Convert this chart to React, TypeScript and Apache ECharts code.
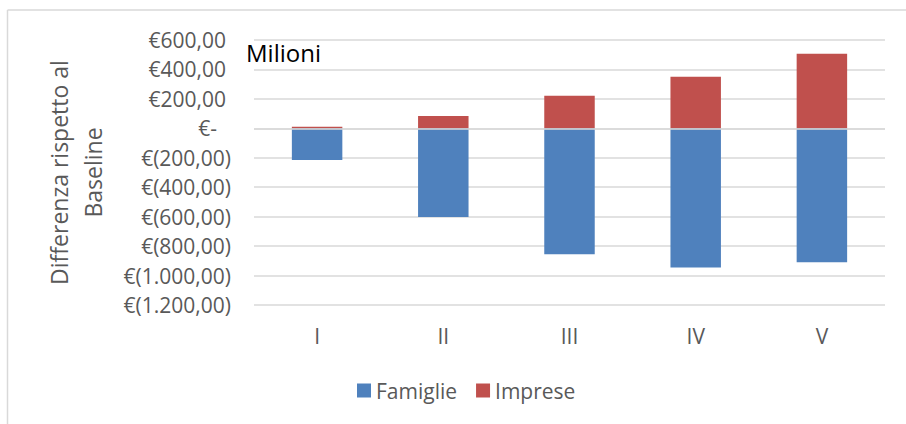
import React, { useEffect, useRef } from "react";
import * as echarts from "echarts";

const categories = ["I", "II", "III", "IV", "V"];
const famiglie = [-215, -603, -855, -945, -910];
const imprese = [10, 83, 222, 351, 507];
const yMin = -1200;
const yMax = 600;
const yStep = 200;
const axisTitleLines = ["Differenza rispetto al", "Baseline"];
const unitLabel = "Milioni";

const FONT = "'Open Sans', 'Noto Sans', sans-serif";
const GRAY = "#595959";

function fmt(v: number): string {
  const s = v.toFixed(2).split(".");
  const intPart = s[0].replace(/\B(?=(\d{3})+(?!\d))/g, ".");
  return intPart + "," + s[1];
}

export default function App() {
  const ref = useRef<HTMLDivElement>(null);
  useEffect(() => {
    if (!ref.current) return;
    const chart = echarts.init(ref.current, null, { renderer: "svg" });
    const richBase = { fontFamily: FONT, fontSize: 21, color: GRAY };
    chart.setOption({
      animation: false,
      backgroundColor: "#ffffff",
      grid: { left: 254, right: 21, top: 40, bottom: 119 },
      legend: {
        data: ["Famiglie", "Imprese"],
        left: 352,
        top: 375,
        itemWidth: 14,
        itemHeight: 14,
        itemGap: 19,
        icon: "rect",
        textStyle: { fontFamily: FONT, fontSize: 21, color: GRAY },
      },
      xAxis: {
        type: "category",
        data: categories,
        axisLine: { show: false },
        axisTick: { show: false },
        axisLabel: { fontFamily: FONT, fontSize: 21, color: GRAY, margin: 20 },
      },
      yAxis: {
        type: "value",
        min: yMin,
        max: yMax,
        interval: yStep,
        axisLine: { show: false },
        axisTick: { show: false },
        splitLine: { lineStyle: { color: "#d9d9d9", width: 1.5 } },
        axisLabel: {
          margin: 23,
          fontFamily: FONT,
          fontSize: 21,
          color: GRAY,
          formatter: (v: number) => {
            if (v > 0) return "{p|€" + fmt(v) + "}";
            if (v === 0) return "{z|€-}";
            return "€(" + fmt(-v) + ")";
          },
          rich: {
            p: { ...richBase, padding: [0, 5, 0, 0] },
            z: { ...richBase, padding: [0, 14, 0, 0] },
          },
        },
      },
      series: [
        {
          name: "Famiglie",
          type: "bar",
          stack: "tot",
          barWidth: "40%",
          data: famiglie,
          itemStyle: { color: "#4f81bd" },
        },
        {
          name: "Imprese",
          type: "bar",
          stack: "tot",
          barWidth: "40%",
          data: imprese,
          itemStyle: { color: "#c0504d" },
          markLine: {
            silent: true,
            symbol: "none",
            label: { show: false },
            lineStyle: { color: "#d9d9d9", width: 1.5, type: "solid" },
            data: [{ yAxis: 0 }],
          },
        },
      ],
      graphic: [
        {
          type: "line",
          shape: { x1: 7.5, y1: 10, x2: 906, y2: 10 },
          style: { stroke: "#d9d9d9", lineWidth: 1.5 },
        },
        {
          type: "line",
          shape: { x1: 7.5, y1: 10, x2: 7.5, y2: 424 },
          style: { stroke: "#d9d9d9", lineWidth: 1.5 },
        },
        {
          type: "text",
          x: 59,
          y: 172.5,
          rotation: Math.PI / 2,
          style: {
            text: axisTitleLines[0],
            fontFamily: FONT,
            fontSize: 23,
            fill: GRAY,
            align: "center",
            verticalAlign: "middle",
          },
        },
        {
          type: "text",
          x: 93,
          y: 172.5,
          rotation: Math.PI / 2,
          style: {
            text: axisTitleLines[1],
            fontFamily: FONT,
            fontSize: 23,
            fill: GRAY,
            align: "center",
            verticalAlign: "middle",
          },
        },
        {
          type: "text",
          x: 246,
          y: 52.5,
          style: {
            text: unitLabel,
            fontFamily: FONT,
            fontSize: 24,
            fill: "#000000",
            align: "left",
            verticalAlign: "middle",
          },
        },
      ],
    });
    return () => chart.dispose();
  }, []);
  return (
    <div
      ref={ref}
      style={{ position: "absolute", left: 0, top: 0, width: 906, height: 424 }}
    />
  );
}
